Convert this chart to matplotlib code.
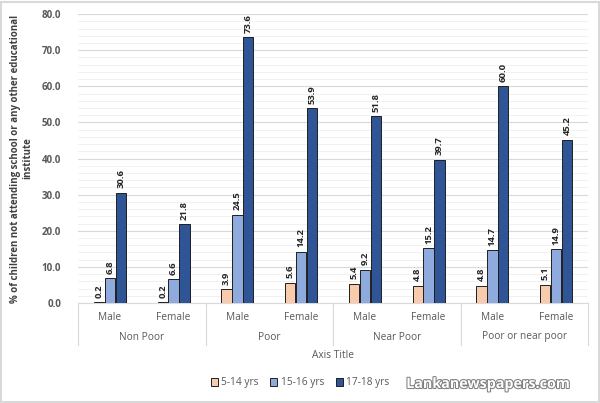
import matplotlib
matplotlib.use("Agg")
import matplotlib.pyplot as plt
import matplotlib.patheffects as pe
import matplotlib.transforms as mtrans
from matplotlib.patches import Rectangle
import numpy as np

groups = ["Non Poor", "Poor", "Near Poor", "Poor or near poor"]
sexes = ["Male", "Female"]
series_names = ["5-14 yrs", "15-16 yrs", "17-18 yrs"]
s_5_14 = [0.2, 0.2, 3.9, 5.6, 5.4, 4.8, 4.8, 5.1]
s_15_16 = [6.8, 6.6, 24.5, 14.2, 9.2, 15.2, 14.7, 14.9]
s_17_18 = [30.6, 21.8, 73.6, 53.9, 51.8, 39.7, 60.0, 45.2]
colors = ["#F8CBAD", "#8FAADC", "#2F5597"]
y_ticks = [0, 10, 20, 30, 40, 50, 60, 70, 80]

plt.rcParams['font.family'] = ['Open Sans', 'DejaVu Sans']
fig = plt.figure(figsize=(6.0, 4.03), dpi=100)
ax = fig.add_axes([0.13, 0.248, 0.85, 0.717])

n = len(s_5_14)
x = np.arange(n)
w = 0.17
data = [s_5_14, s_15_16, s_17_18]
for i, (vals, c, name) in enumerate(zip(data, colors, series_names)):
    xs = x + (i - 1) * w
    ax.bar(xs, vals, width=w * 0.95, color=c, edgecolor="#1f1f1f", linewidth=0.7, label=name, zorder=3)
    for xi, v in zip(xs, vals):
        ax.text(xi, v + 1.2, f"{v:.1f}", rotation=90, ha="center", va="bottom",
                fontsize=6.8, fontweight="bold", color="#262626", zorder=4)

ax.set_xlim(-0.5, n - 0.5)
ax.set_ylim(0, 80)
ax.set_yticks(y_ticks)
ax.set_yticklabels([f"{t:.1f}" for t in y_ticks], fontsize=7, fontweight="bold", color="#595959")
ax.set_yticks(np.arange(0, 81, 2), minor=True)
ax.tick_params(axis="y", which="both", length=0, pad=12)
ax.grid(axis="y", which="major", color="#d9d9d9", linewidth=0.8, zorder=0)
ax.grid(axis="y", which="minor", color="#efefef", linewidth=0.6, zorder=0)
ax.set_xticks([])
for s in ["top", "right", "left"]:
    ax.spines[s].set_visible(False)
ax.spines["bottom"].set_color("#d9d9d9")

ax.set_ylabel("% of children not attending school or any other educational\ninstitute",
              fontsize=7, fontweight="bold", color="#404040", labelpad=6)

trans = mtrans.blended_transform_factory(ax.transData, fig.transFigure)
y0 = 1 - 303 / 403
y1 = 1 - 345 / 403
for b in np.arange(-0.5, n, 2):
    ax.plot([b, b], [y0, y1], transform=trans, color="#d9d9d9", lw=0.8, clip_on=False)
for i in range(n):
    ax.text(x[i], 1 - 317 / 403, sexes[i % 2], transform=trans, ha="center", va="center",
            fontsize=7.3, color="#595959")
for g, name in enumerate(groups):
    ax.text(2 * g + 0.5, 1 - 337 / 403, name, transform=trans, ha="center", va="center",
            fontsize=7.3, color="#595959")
ax.text(0.5, 1 - 355 / 403, "Axis Title",
        transform=mtrans.blended_transform_factory(ax.transAxes, fig.transFigure),
        ha="center", va="center", fontsize=7.3, color="#595959")

fig.legend(loc="center", bbox_to_anchor=(0.5, 1 - 383 / 403), ncol=3, frameon=False,
           fontsize=7.3, handlelength=0.7, handleheight=0.7, handletextpad=0.3, columnspacing=1.2,
           labelcolor="#595959")

fig.text(488 / 600, 1 - 384 / 403, "Lankanewspapers.com", ha="center", va="center", fontsize=10.3,
         color="white", fontweight="bold",
         path_effects=[pe.withStroke(linewidth=1.5, foreground="#7f7f7f")])

fig.patches.append(Rectangle((0.002, 0.002), 0.996, 0.994, transform=fig.transFigure,
                             fill=False, edgecolor="#d9d9d9", lw=1.5))

fig.savefig("out.png", dpi=100)
